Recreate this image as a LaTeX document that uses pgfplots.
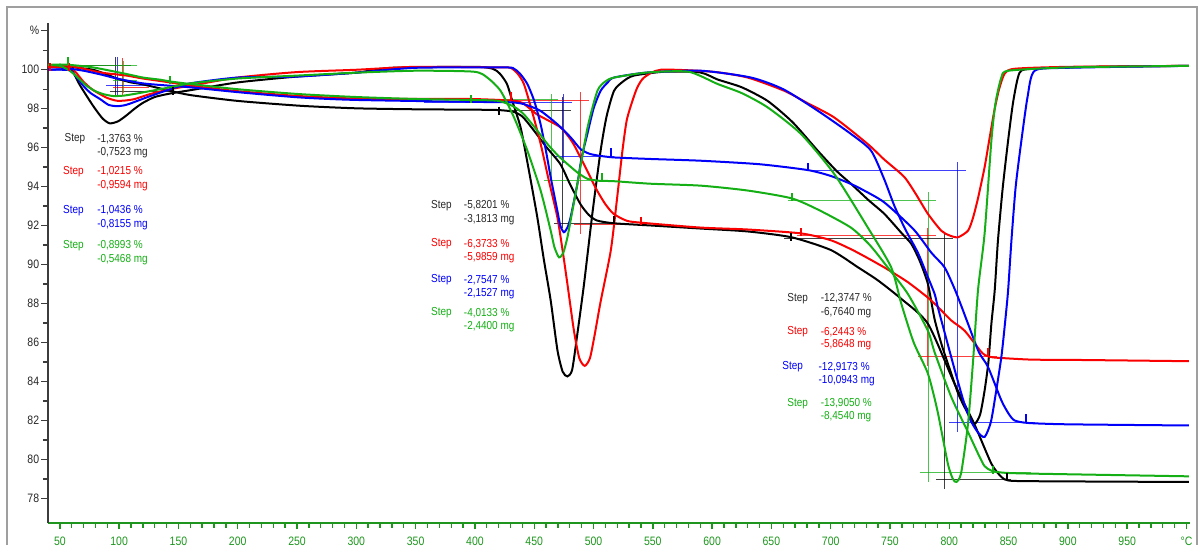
\documentclass[border=0pt]{standalone}
\usepackage{fontspec}
\setmainfont{Liberation Sans}[FakeStretch=0.86]
\usepackage{pgfplots}
\pgfplotsset{compat=1.18}
\definecolor{cg}{RGB}{20,175,20}
\definecolor{ag}{RGB}{30,150,30}
\definecolor{cr}{RGB}{250,0,0}
\definecolor{cb}{RGB}{0,0,250}
\definecolor{ck}{RGB}{0,0,0}
\definecolor{tk}{RGB}{40,40,40}
\definecolor{ay}{RGB}{60,60,60}
\newcommand{\stp}[7]{%
  \node[text=#1, anchor=center, font=\fontsize{5.8}{6.5}\selectfont] at (axis cs:#2,#4) {Step};
  \node[text=#1, anchor=west, inner xsep=0pt, font=\fontsize{5.8}{6.5}\selectfont] at (axis cs:#3,#4) {#6};
  \node[text=#1, anchor=west, inner xsep=0pt, font=\fontsize{5.8}{6.5}\selectfont] at (axis cs:#3,#5) {#7};}
\begin{document}
\begin{tikzpicture}
\begin{axis}[
  at={(0,0)}, anchor=south west,
  scale only axis, width=571pt, height=249.85pt,
  xmin=40, xmax=1003, ymin=76.75, ymax=102.4,
  axis x line*=bottom, axis y line*=left,
  x axis line style={ag, line width=0.9pt},
  y axis line style={ay, line width=0.9pt},
  xtick={50,100,...,1000},
  xticklabels={50,100,150,200,250,300,350,400,450,500,550,600,650,700,750,800,850,900,950,°C},
  minor x tick num=4,
  ytick={78,80,...,102},
  yticklabels={78,80,82,84,86,88,90,92,94,96,98,100,\%},
  minor y tick num=1,
  tick align=outside,
  major tick length=3.4pt, minor tick length=2.6pt,
  xtick style={ag, line width=0.7pt},
  ytick style={ay, line width=0.7pt},
  xticklabel style={ag, font=\fontsize{6.1}{6.5}\selectfont},
  yticklabel style={tk, xshift=2.5pt, font=\fontsize{6.1}{6.5}\selectfont},
  clip=false,
]
% ---------- annotation lines ----------
\pgfplotsset{ann/.style={line width=0.5pt, opacity=0.75, forget plot}}
% step 1
\addplot[ann, ck] coordinates {(50,100.24) (110,100.24)};
\addplot[ann, ck] coordinates {(97,98.58) (97,100.67)};
\addplot[ann, ck] coordinates {(92,98.9) (146,98.9)};
\addplot[ann, cr] coordinates {(103,98.72) (103,100.6)};
\addplot[ann, cr] coordinates {(95,99.08) (125,99.08)};
\addplot[ann, cb] coordinates {(98.4,98.65) (98.4,100.65)};
\addplot[ann, cb] coordinates {(89,99.2) (123,99.2)};
\addplot[ann, cg] coordinates {(104,98.8) (104,100.45)};
\addplot[ann, cg] coordinates {(55,100.2) (115,100.2)};
\addplot[ann, cg] coordinates {(95,99.44) (115,99.44)};
% step 2
\addplot[ann, ck] coordinates {(410,97.93) (481,97.93)};
\addplot[ann, ck] coordinates {(473.5,98.6) (473.5,91.9)};
\addplot[ann, ck] coordinates {(466.6,92.12) (517.3,92.12)};
\addplot[ann, cr] coordinates {(418.8,98.41) (496.2,98.41)};
\addplot[ann, cr] coordinates {(489.2,98.84) (489.2,91.57)};
\addplot[ann, cr] coordinates {(483.5,92.05) (540,92.05)};
\addplot[ann, cb] coordinates {(356.8,98.32) (482,98.32)};
\addplot[ann, cb] coordinates {(475,98.75) (475,95.2)};
\addplot[ann, cb] coordinates {(466.6,95.54) (517.3,95.54)};
\addplot[ann, cg] coordinates {(395,98.45) (470,98.45)};
\addplot[ann, cg] coordinates {(464.4,98.75) (464.4,94.3)};
\addplot[ann, cg] coordinates {(458,94.34) (509,94.34)};
% step 3
\addplot[ann, cb] coordinates {(680.7,94.82) (814.4,94.82)};
\addplot[ann, cb] coordinates {(807.3,95.25) (807.3,81.4)};
\addplot[ann, cb] coordinates {(800,81.87) (872,81.87)};
\addplot[ann, cg] coordinates {(663.7,93.28) (789,93.28)};
\addplot[ann, cg] coordinates {(782.5,93.7) (782.5,78.84)};
\addplot[ann, cg] coordinates {(775,79.35) (869,79.35)};
\addplot[ann, cr] coordinates {(672,91.49) (789,91.49)};
\addplot[ann, cr] coordinates {(781.4,91.9) (781.4,84.8)};
\addplot[ann, cr] coordinates {(773.6,85.3) (840,85.3)};
\addplot[ann, ck] coordinates {(661,91.35) (803,91.35)};
\addplot[ann, ck] coordinates {(796,91.66) (796,78.5)};
\addplot[ann, ck] coordinates {(789,78.96) (852,78.96)};
% ---------- curves ----------
\pgfplotsset{crv/.style={line width=1pt, smooth, tension=0.4, forget plot}}
% black TG
\addplot[crv, ck] coordinates {
(40,100.2) (50,100.2) (56,100.2) (65,100.1) (78,100.0) (90,99.75) (98,99.55) (110,99.35) (120,99.25) (143,98.92) (160,98.7) (200,98.4) (253,98.15) (300,98.02) (350,97.97) (400,97.95) (420,97.93) (432,97.85) (440,97.6) (449.5,96.9) (460,96.05) (472,95.16) (480,94.15) (489,93.1) (496,92.55) (503,92.26) (517,92.12) (550,92.0) (590,91.85) (630,91.7) (667,91.4) (700,90.75) (723,89.86) (740,89.18) (759.5,88.24) (782,86.96) (804.5,83.88) (821,81.83) (835.5,79.78) (843.9,79.1) (849.6,78.92) (870,78.88) (1002,78.84)};
% black DTG
\addplot[crv, ck] coordinates {
(40,100.15) (56,100.1) (60,100.0) (67,99.2) (78,98.15) (86,97.5) (92,97.25) (99,97.35) (106,97.65) (113,98.0) (120,98.3) (130,98.6) (143,98.78) (160,98.95) (200,99.35) (250,99.65) (300,99.85) (330,100.1) (400,100.15) (415,100.05) (421,99.8) (427,99.27) (432,98.3) (438.5,97.04) (445,95.0) (452.6,92.43) (458,90.3) (463.9,88.15) (469.6,85.6) (474,84.5) (478,84.26) (482,84.6) (486.4,86.45) (492,89.0) (499,92.6) (506,95.85) (511,97.6) (517.3,98.92) (525,99.4) (534,99.7) (560,99.9) (590,99.86) (604.6,99.5) (625,99.1) (646.8,98.4) (668,97.3) (689,95.85) (705,94.8) (717.2,94.14) (732,93.3) (745.3,92.6) (760,91.6) (768,91.06) (775,90.2) (782,89.0) (787.6,87.2) (794,85.8) (801.7,84.4) (808,83.3) (815.8,82.34) (821.3,81.83) (826,82.3) (829.8,83.54) (833,85.0) (835.5,86.96) (838.3,88.67) (841,91.2) (845,93.9) (849.6,96.36) (854,98.4) (859.3,99.85) (870,100.05) (920,100.15) (1002,100.2)};
% red TG
\addplot[crv, cr] coordinates {
(40,100.2) (50,100.2) (58,100.2) (70,100.05) (85,99.85) (106.3,99.7) (120,99.55) (142.9,99.35) (160,99.18) (200,98.9) (252,98.65) (300,98.52) (350,98.5) (396,98.5) (430,98.42) (440,98.3) (452.6,97.7) (472,97.05) (482,96.3) (489,95.5) (496,94.65) (503,93.8) (510,93.1) (517,92.6) (528,92.25) (540,92.15) (590,91.9) (630,91.8) (675,91.6) (700,91.25) (720,90.7) (745,89.86) (765,89.1) (782,88.3) (790,87.85) (801.7,87.13) (813,86.6) (828,85.45) (835.5,85.25) (845,85.2) (870,85.12) (914,85.1) (1002,85.04)};
% red DTG
\addplot[crv, cr] coordinates {
(40,100.15) (58,100.1) (63,99.9) (69.7,99.4) (77,99.0) (83.8,98.75) (90,98.55) (97.9,98.41) (105,98.42) (113.3,98.5) (126,98.75) (142.9,99.0) (159.8,99.18) (200,99.6) (250,99.88) (300,100.0) (350,100.15) (420,100.12) (430,100.1) (436,99.8) (441.3,99.27) (448,97.9) (455.4,96.2) (462,94.4) (469.5,92.43) (474,90.7) (478,89.0) (483.5,86.6) (488,85.2) (492.6,84.8) (497,85.2) (501,86.4) (506,88.1) (514.5,90.7) (519.5,93.2) (524.4,95.85) (528,97.4) (532.8,98.4) (537,99.1) (542.6,99.6) (556.7,100.0) (600,99.9) (630,99.6) (660.9,98.92) (680,98.3) (703,97.55) (731,96.2) (745,95.4) (762,94.5) (772,93.6) (782,92.6) (793.2,91.74) (800,91.5) (807.3,91.4) (815.8,91.74) (820,92.4) (824.2,93.4) (829.8,95.0) (834,96.5) (838,97.9) (842,99.0) (846.7,99.8) (855,100.05) (900,100.15) (1002,100.2)};
% blue TG
\addplot[crv, cb] coordinates {
(40,100.0) (50,100.02) (58,100.05) (70,99.95) (85,99.75) (98,99.55) (120,99.3) (142.9,99.18) (159.8,99.1) (200,98.85) (252,98.58) (300,98.45) (400,98.35) (430,98.33) (441,98.24) (455,97.9) (469.6,97.2) (480.7,96.53) (489,95.93) (496,95.7) (503.3,95.6) (517,95.5) (548,95.42) (590.5,95.33) (640,95.15) (680.7,94.85) (700,94.55) (717,94.14) (725.7,93.88) (745,93.2) (770,91.8) (785,90.6) (796,89.86) (804.5,88.75) (810,87.9) (815.8,86.96) (825,85.5) (832.7,84.74) (843.9,83.03) (850,82.35) (855,82.0) (866.3,81.87) (900,81.8) (1002,81.74)};
% blue DTG
\addplot[crv, cb] coordinates {
(40,100.0) (58,99.98) (63,99.7) (69.7,99.18) (76,98.8) (83.8,98.5) (91,98.2) (97.9,98.13) (104,98.17) (109.1,98.26) (123.2,98.58) (142.9,99.0) (159.8,99.3) (200,99.6) (250,99.65) (300,99.85) (350,100.1) (425,100.12) (433,100.05) (438,99.8) (444.2,99.27) (450,98.4) (455.4,97.2) (460,95.8) (463.9,94.48) (469.5,92.77) (472,92.0) (475,91.66) (478,91.9) (480.7,92.43) (486.4,94.14) (490,95.5) (494.8,96.7) (500,98.0) (506,98.92) (512,99.35) (517.3,99.6) (545.5,99.86) (590.5,99.95) (632.8,99.6) (660,99.0) (689,97.9) (717.2,96.7) (734,95.85) (745,94.4) (753.8,93.0) (763,91.8) (773.6,90.6) (781,89.5) (787.6,88.5) (790.4,87.8) (797,86.3) (805,84.5) (812,83.0) (818,82.0) (824,81.4) (829.8,81.15) (835,81.9) (839,83.3) (843.9,85.25) (847,87.0) (849.6,88.67) (852.4,91.23) (856,94.0) (860.8,96.36) (866,98.6) (872,99.95) (900,100.1) (1002,100.2)};
% green TG
\addplot[crv, cg] coordinates {
(40,100.25) (50,100.27) (58,100.25) (78,100.12) (106.3,99.78) (120,99.6) (134.5,99.49) (143,99.4) (159.8,99.27) (200,99.0) (252,98.75) (300,98.6) (350,98.5) (396,98.45) (420,98.4) (433,98.1) (441,97.73) (451,97.0) (461,96.2) (470,95.6) (478,95.16) (487,94.7) (495,94.4) (505,94.3) (517,94.28) (548,94.15) (590.5,94.05) (630,93.8) (667,93.4) (690,92.8) (717,91.9) (733,91.0) (748,89.86) (765,88.5) (782,86.6) (787.6,85.5) (801.7,83.2) (815.8,81.4) (825,80.2) (829.8,79.65) (835.5,79.42) (845,79.32) (869,79.27) (1002,79.13)};
% green DTG
\addplot[crv, cg] coordinates {
(40,100.25) (50,100.2) (58.4,99.95) (65,99.6) (72.5,99.18) (80,98.9) (86.6,98.75) (95,98.65) (103.5,98.67) (112,98.75) (120.4,98.84) (142.9,99.1) (160,99.3) (200,99.55) (250,99.7) (300,99.85) (350,99.95) (399,99.9) (410.4,99.6) (421.6,98.92) (433,97.55) (444.2,95.85) (455.4,93.8) (463.9,91.74) (467,90.9) (470.9,90.37) (474.5,90.6) (478,91.4) (482,92.7) (486.4,94.14) (495,97.04) (503.3,98.92) (510,99.4) (517.4,99.6) (545.5,99.86) (580,99.9) (604.6,99.27) (625,98.8) (646.8,98.07) (675,96.7) (703,94.65) (731.3,91.9) (751,89.86) (759.5,88.0) (770,86.0) (782,84.4) (790,82.5) (798.8,79.78) (803,79.0) (806,78.84) (810,79.3) (815.8,81.83) (820,85.0) (824.2,88.67) (829.8,91.6) (835.5,96.36) (839,98.3) (843.9,99.6) (850,99.95) (900,100.12) (1002,100.2)};
% ---------- step markers ----------
\pgfplotsset{mk/.style={only marks, mark=|, mark size=2pt, mark options={line width=1pt}, forget plot}}
\addplot[mk, ck] coordinates {(145.7,98.92) (420,97.9) (517.3,92.3) (666.6,91.4) (849,79.1)};
\addplot[mk, cr] coordinates {(42,100.15) (58,100.15) (430,98.67) (540,92.26) (675,91.66) (833,85.5)};
\addplot[mk, cb] coordinates {(514.5,95.76) (680.7,94.99) (865,82.1)};
\addplot[mk, cg] coordinates {(57,100.46) (143,99.47) (396.3,98.5) (507.5,94.5) (667,93.45) (836.8,79.44)};
% ---------- step labels ----------
\stp{tk}{62.7}{81.2}{96.46}{95.74}{-1,3763 \%}{-0,7523 mg}
\stp{cr}{61.5}{81.2}{94.77}{94.05}{-1,0215 \%}{-0,9594 mg}
\stp{cb}{61.5}{81.2}{92.77}{92.05}{-1,0436 \%}{-0,8155 mg}
\stp{cg}{61.5}{81.2}{90.97}{90.26}{-0,8993 \%}{-0,5468 mg}
\stp{tk}{371.8}{390.4}{93.03}{92.3}{-5,8201 \%}{-3,1813 mg}
\stp{cr}{371.8}{390.4}{91.07}{90.35}{-6,3733 \%}{-5,9859 mg}
\stp{cb}{371.8}{390.4}{89.22}{88.53}{-2,7547 \%}{-2,1527 mg}
\stp{cg}{371.8}{390.4}{87.51}{86.83}{-4,0133 \%}{-2,4400 mg}
\stp{tk}{672.2}{691.3}{88.25}{87.53}{-12,3747 \%}{-6,7640 mg}
\stp{cr}{672.2}{691.3}{86.54}{85.9}{-6,2443 \%}{-5,8648 mg}
\stp{cb}{668}{689.5}{84.74}{84.06}{-12,9173 \%}{-10,0943 mg}
\stp{cg}{672.2}{691.3}{82.87}{82.18}{-13,9050 \%}{-8,4540 mg}
\end{axis}
\pgfresetboundingbox
\path (-24pt,-11.15pt) rectangle (575.5pt,261.35pt);
\draw[gray!75, line width=1pt] (-20.5pt,-11.15pt) -- (-20.5pt,257.85pt) -- (574.5pt,257.85pt) -- (574.5pt,-11.15pt);
\end{tikzpicture}
\end{document}
